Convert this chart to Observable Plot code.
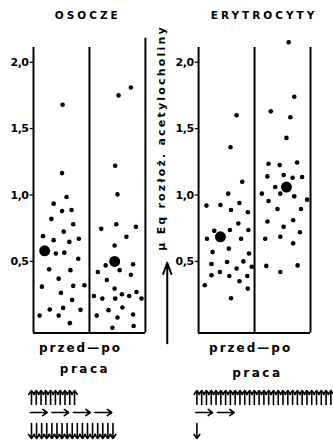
<!DOCTYPE html>
<html><head><meta charset="utf-8">
<script src="https://cdn.jsdelivr.net/npm/d3@7"></script>
<script src="https://cdn.jsdelivr.net/npm/@observablehq/plot@0.6"></script>
<style>body{margin:0;background:#fff}</style>
</head><body><div id="chart"></div>
<script>
// ---- data ----
const panels = ["OSOCZE", "ERYTROCYTY"];
const columns = ["przed", "po"];
const yTicks = [0.5, 1.0, 1.5, 2.0];

// μEq of decomposed acetylcholine, individual values and their horizontal spread (0..1 within column)
const osoczePrzed  = [1.68,1.165,0.985,0.935,0.88,0.887,0.82,0.78,0.724,0.69,0.66,0.647,0.67,0.56,0.566,0.52,0.44,0.434,0.37,0.31,0.316,0.32,0.263,0.21,0.15,0.138,0.092,0.092,0.135,0.035];
const osoczePrzedJ = [0.52,0.51,0.59,0.36,0.51,0.68,0.32,0.71,0.54,0.17,0.36,0.64,0.81,0.40,0.55,0.80,0.28,0.66,0.45,0.15,0.71,0.91,0.49,0.69,0.53,0.29,0.11,0.45,0.84,0.65];
const osoczePo  = [1.75,1.81,1.22,1.005,0.78,0.745,0.76,0.686,0.62,0.47,0.478,0.42,0.434,0.40,0.36,0.295,0.24,0.22,0.22,0.253,0.24,0.27,0.22,0.133,0.153,0.10,0.092,0.077,0.013,0.0];
const osoczePoJ = [0.52,0.74,0.46,0.50,0.48,0.21,0.83,0.66,0.45,0.29,0.78,0.15,0.54,0.74,0.31,0.45,0.08,0.23,0.46,0.58,0.71,0.84,0.93,0.34,0.59,0.78,0.13,0.50,0.79,0.41];
const erytPrzed  = [1.60,1.36,1.10,1.01,0.92,0.925,0.887,0.94,0.87,0.785,0.73,0.737,0.737,0.67,0.67,0.596,0.57,0.56,0.50,0.496,0.48,0.46,0.446,0.42,0.396,0.39,0.39,0.35,0.32,0.295,0.223];
const erytPrzedJ = [0.68,0.57,0.78,0.53,0.14,0.39,0.58,0.73,0.88,0.71,0.28,0.56,0.89,0.15,0.76,0.54,0.25,0.90,0.80,0.51,0.23,0.95,0.68,0.38,0.23,0.55,0.87,0.73,0.11,0.88,0.58];
const erytPo  = [2.15,1.74,1.63,1.585,1.43,1.235,1.225,1.245,1.14,1.15,1.13,1.135,1.06,1.01,1.01,0.955,0.99,0.965,0.895,0.895,0.80,0.81,0.76,0.72,0.67,0.686,0.636,0.466,0.47,0.42];
const erytPoJ = [0.61,0.71,0.29,0.64,0.57,0.25,0.45,0.76,0.23,0.52,0.68,0.85,0.37,0.13,0.46,0.25,0.71,0.94,0.41,0.83,0.23,0.69,0.52,0.81,0.19,0.46,0.69,0.21,0.77,0.46];

// means (large dots)
const meanValues = [0.58, 0.50, 0.685, 1.06];
const meanJ      = [0.20, 0.45, 0.39, 0.57];

// number of individual changes: up / no change / down
const osoczeChanges = [10, 4, 17];
const erytChanges   = [29, 2, 1];

const yLabel = "μ Eq rozłoż. acetylocholiny";
const colLabel = "przed—po";
const workLabel = "praca";

// ---- layout (in scale units) ----
const panelStart = [0, 2.95];
const colW = 1;
const frameBottom = -0.04;

// ---- build tables ----
const pts = [];
function addCol(p, c, ys, js) {
  ys.forEach((v, i) => pts.push({panel: panels[p], col: columns[c], value: v, x: panelStart[p] + c * colW + js[i]}));
}
addCol(0, 0, osoczePrzed, osoczePrzedJ);
addCol(0, 1, osoczePo, osoczePoJ);
addCol(1, 0, erytPrzed, erytPrzedJ);
addCol(1, 1, erytPo, erytPoJ);

const means = meanValues.map((v, i) => ({
  value: v, x: panelStart[Math.floor(i / 2)] + (i % 2) * colW + meanJ[i]
}));

const frameLines = [];
panelStart.forEach((s, p) => [0, 1, 2].forEach(k => frameLines.push({x: s + k * colW, top: (p === 0 && k === 2) ? 2.18 : 2.11})));

const tickRows = [];
panelStart.forEach(s => yTicks.forEach(t => tickRows.push({x: s, y: t})));
const fmt = v => v.toFixed(1).replace(".", ",");

// arrow symbol rows
const arrowRows = [];
function addArrows(x0, changes) {
  d3.range(changes[0]).forEach(i => arrowRows.push({x1: x0 + i * 0.0855, x2: x0 + i * 0.0855, y1: -0.578, y2: -0.472}));
  d3.range(changes[1]).forEach(i => arrowRows.push({x1: x0 - 0.02 + i * 0.385, x2: x0 - 0.02 + i * 0.385 + 0.3, y1: -0.638, y2: -0.638}));
  d3.range(changes[2]).forEach(i => arrowRows.push({x1: x0 + i * 0.091, x2: x0 + i * 0.091, y1: -0.721, y2: -0.834}));
}
addArrows(-0.036, osoczeChanges);
addArrows(2.92, erytChanges);

const font = "'DejaVu Sans', sans-serif";

const chart = Plot.plot({
  width: 333,
  height: 440,
  marginLeft: 33,
  marginRight: 23,
  marginTop: 61.7,
  marginBottom: 112.7,
  x: {domain: [0, 4.95], axis: null},
  y: {domain: [0, 2], axis: null},
  style: {fontFamily: font, background: "#fff", color: "#000", overflow: "visible"},
  marks: [
    Plot.ruleX(frameLines, {x: "x", y1: frameBottom, y2: "top", stroke: "#000", strokeWidth: 2}),
    Plot.ruleY(panelStart, {y: frameBottom, x1: d => d, x2: d => d + 2 * colW, stroke: "#000", strokeWidth: 2}),
    Plot.ruleY(tickRows, {y: "y", x1: d => d.x - 0.06, x2: "x", stroke: "#000", strokeWidth: 1.3}),
    Plot.text(tickRows, {x: "x", y: "y", text: d => fmt(d.y), textAnchor: "end", dx: -5, fontSize: 11, fontWeight: "bold"}),
    Plot.dot(pts, {x: "x", y: "value", r: 2.3, fill: "#000", stroke: "none"}),
    Plot.dot(means, {x: "x", y: "value", r: 5.5, fill: "#000", stroke: "none"}),
    Plot.text(panels, {x: (d, i) => [0.97, 4.12][i], y: 2.35, text: d => d, fontSize: 10.5, fontWeight: "bold"}),
    Plot.text([yLabel], {x: 2.29, y: 1.43, text: d => d, rotate: -90, fontSize: 11, fontWeight: "bold"}),
    Plot.arrow([0], {x1: 2.39, x2: 2.39, y1: -0.117, y2: 0.49, stroke: "#000", strokeWidth: 2, headLength: 9, headAngle: 40}),
    Plot.text([colLabel, colLabel], {x: (d, i) => [0.84, 3.88][i], y: -0.155, text: d => d, fontSize: 12, fontWeight: "bold"}),
    Plot.text([workLabel, workLabel], {x: (d, i) => [0.92, 4.0][i], y: (d, i) => [-0.31, -0.34][i], text: d => d, fontSize: 12, fontWeight: "bold"}),
    Plot.arrow(arrowRows, {x1: "x1", y1: "y1", x2: "x2", y2: "y2", stroke: "#000", strokeWidth: 1.6, headLength: 5, headAngle: 70})
  ]
});

const spacing = new Map([
  ["OSOCZE", "3px"], ["ERYTROCYTY", "3px"],
  [yLabel, "2.2px"], [colLabel, "2px"], [workLabel, "2.5px"]
]);
d3.select(chart).selectAll("text").each(function () {
  const t = this.textContent;
  if (spacing.has(t)) this.setAttribute("letter-spacing", spacing.get(t));
  else if (/^\d,\d$/.test(t)) this.setAttribute("letter-spacing", "-0.5px");
});
document.getElementById("chart").appendChild(chart);
</script></body></html>
